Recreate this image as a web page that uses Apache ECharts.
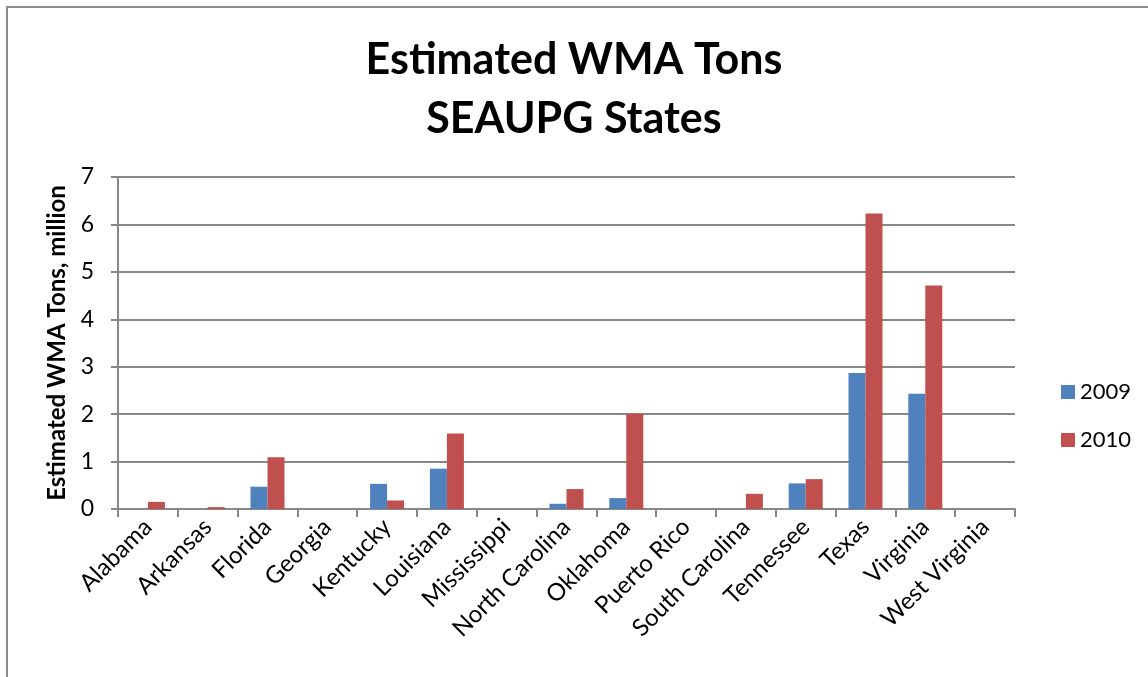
<!DOCTYPE html>
<html>
<head>
<meta charset="utf-8">
<script src="https://cdn.jsdelivr.net/npm/echarts@6/dist/echarts.min.js"></script>
<style>
  html, body { margin: 0; padding: 0; background: #fff; }
  #chart { width: 1148px; height: 677px; }
</style>
</head>
<body>
<div id="chart"></div>
<script>
const states = ['Alabama', 'Arkansas', 'Florida', 'Georgia', 'Kentucky', 'Louisiana', 'Mississippi',
  'North Carolina', 'Oklahoma', 'Puerto Rico', 'South Carolina', 'Tennessee', 'Texas', 'Virginia', 'West Virginia']
const tons2009 = [0, 0, 0.47, 0, 0.53, 0.85, 0, 0.11, 0.23, 0, 0, 0.54, 2.87, 2.43, 0]
const tons2010 = [0.15, 0.04, 1.09, 0, 0.18, 1.59, 0, 0.42, 2.01, 0, 0.32, 0.63, 6.23, 4.71, 0]

const fontFamily = 'Lato, "Noto Sans", sans-serif'
const gridGray = '#878787'

const chart = echarts.init(document.getElementById('chart'))

chart.setOption({
  animation: false,
  textStyle: { fontFamily },
  title: {
    text: 'Estimated WMA Tons\nSEAUPG States',
    left: 'center',
    top: 26,
    textStyle: { fontSize: 43, fontWeight: 'bold', color: '#000', lineHeight: 59, fontFamily }
  },
  graphic: [{
    type: 'rect',
    shape: { x: 7, y: 7, width: 1200, height: 720 },
    style: { fill: 'none', stroke: '#8c8c8c', lineWidth: 2 },
    silent: true
  }],
  legend: {
    orient: 'vertical',
    left: 1056,
    top: 376,
    itemWidth: 14,
    itemHeight: 14,
    itemGap: 26,
    icon: 'rect',
    textStyle: { fontSize: 22, color: '#000', fontFamily },
    data: ['2009', '2010']
  },
  grid: { left: 118, right: 133, top: 177, bottom: 168, containLabel: false },
  xAxis: {
    type: 'category',
    data: states,
    axisLine: { lineStyle: { color: gridGray, width: 2 } },
    axisTick: { show: true, length: 8, lineStyle: { color: gridGray, width: 2 } },
    axisLabel: { rotate: 45, fontSize: 24, color: '#000', margin: 14, interval: 0, fontFamily }
  },
  yAxis: {
    type: 'value',
    min: 0,
    max: 7,
    interval: 1,
    name: 'Estimated WMA Tons, million',
    nameLocation: 'middle',
    nameGap: 48,
    nameTextStyle: { fontSize: 24, fontWeight: 'bold', color: '#000', fontFamily },
    axisLine: { show: true, lineStyle: { color: gridGray, width: 2 } },
    axisTick: { show: true, length: 7, lineStyle: { color: gridGray, width: 2 } },
    axisLabel: { fontSize: 23, color: '#000', margin: 24, fontFamily },
    splitLine: { lineStyle: { color: gridGray, width: 2 } }
  },
  series: [
    {
      name: '2009',
      type: 'bar',
      data: tons2009,
      barWidth: 17,
      barGap: '0%',
      itemStyle: { color: '#4F81BD' }
    },
    {
      name: '2010',
      type: 'bar',
      data: tons2010,
      barWidth: 17,
      barGap: '0%',
      itemStyle: { color: '#C0504D' }
    }
  ]
})
</script>
</body>
</html>
